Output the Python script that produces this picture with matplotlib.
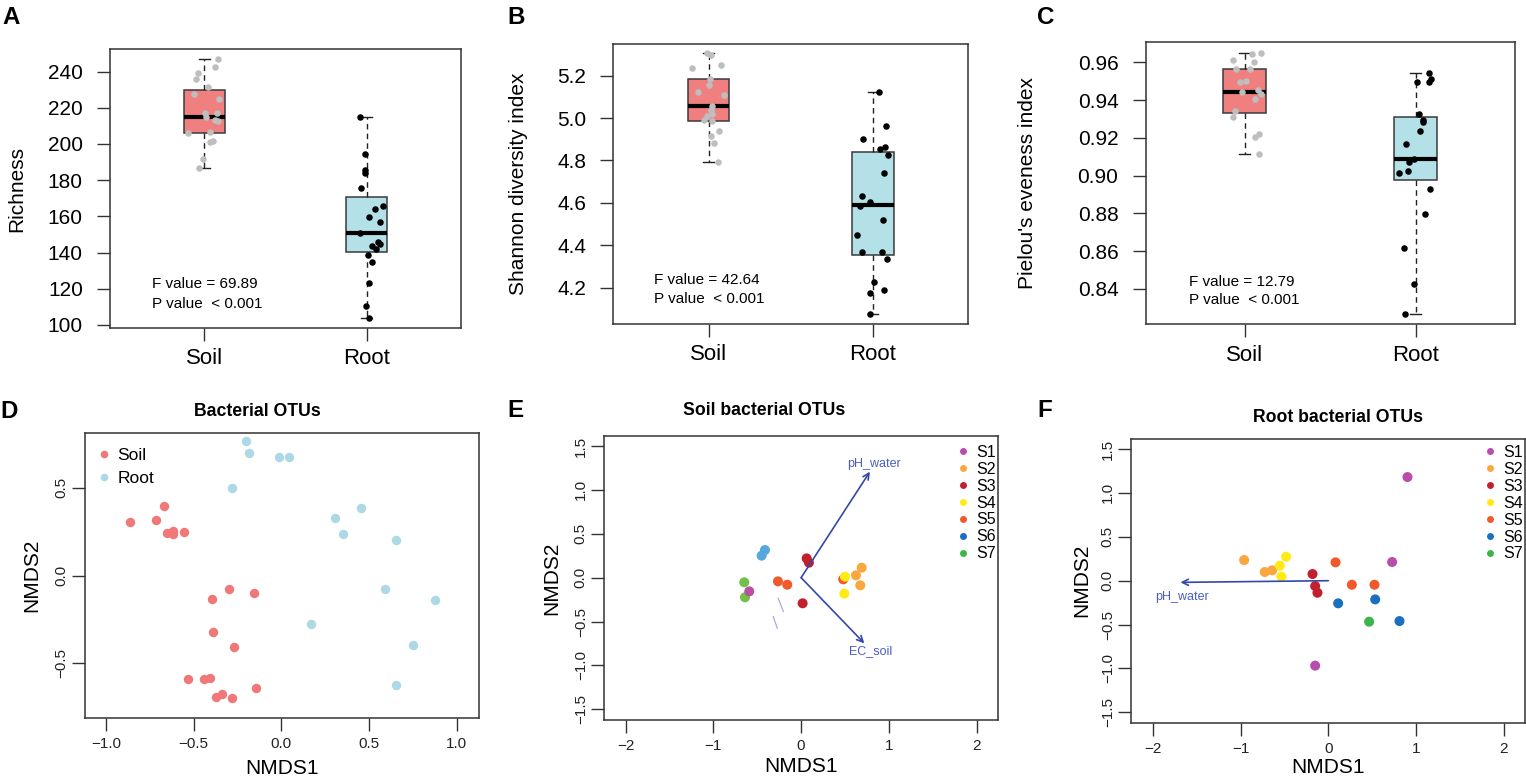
import matplotlib
matplotlib.use('Agg')
import matplotlib.pyplot as plt
from matplotlib.lines import Line2D
from matplotlib.ticker import FormatStrFormatter
import numpy as np

plt.rcParams['font.family'] = ['Liberation Sans', 'DejaVu Sans']

groups = ['Soil', 'Root']

# ---------------- Panel A : Richness ----------------
rich_soil = [246.8, 242.8, 239.1, 236.0, 231.7, 227.7, 224.9, 217.0, 217.0, 215.1,
             213.3, 212.7, 205.9, 206.7, 201.3, 201.7, 191.7, 187.0]
rich_soil_jit = [0.086, 0.064, -0.041, -0.053, 0.023, -0.066, 0.092, 0.002, 0.080, 0.012,
                 0.064, 0.084, -0.099, 0.037, 0.033, 0.053, -0.006, -0.035]
rich_root = [214.8, 194.7, 185.7, 183.8, 175.9, 165.8, 163.8, 159.9, 156.9, 150.7,
             145.9, 144.8, 143.7, 142.2, 138.7, 134.8, 122.9, 110.7, 103.9]
rich_root_jit = [-0.039, -0.012, -0.008, -0.010, -0.035, 0.097, 0.049, 0.014, 0.084, -0.039,
                 0.070, 0.084, 0.035, 0.060, 0.008, 0.035, 0.014, -0.004, 0.012]
# whislo, q1, median, q3, whishi
rich_soil_box = [187.0, 206.3, 214.8, 229.9, 246.8]
rich_root_box = [103.9, 140.2, 151.0, 170.8, 214.8]
rich_text = ['F value = 69.89', 'P value  < 0.001']

# ---------------- Panel B : Shannon ----------------
shan_soil = [5.305, 5.297, 5.238, 5.252, 5.184, 5.156, 5.125, 5.109, 5.057, 5.038,
             5.018, 5.011, 4.991, 4.986, 4.939, 4.917, 4.884, 4.791]
shan_soil_jit = [-0.008, 0.014, -0.101, 0.075, 0.010, 0.000, -0.065, 0.091, 0.020, 0.014,
                 0.022, -0.010, -0.028, 0.018, 0.063, 0.014, 0.034, 0.057]
shan_root = [5.121, 4.961, 4.901, 4.854, 4.865, 4.827, 4.739, 4.632, 4.587, 4.603,
             4.519, 4.448, 4.370, 4.370, 4.337, 4.227, 4.175, 4.191, 4.077]
shan_root_jit = [0.034, 0.081, -0.063, 0.041, 0.071, 0.089, 0.065, -0.065, -0.081, -0.016,
                 0.061, -0.095, -0.065, 0.055, 0.087, 0.006, -0.020, 0.067, -0.016]
shan_soil_box = [4.791, 4.988, 5.057, 5.183, 5.305]
shan_root_box = [4.077, 4.353, 4.588, 4.840, 5.121]
shan_text = ['F value = 42.64', 'P value  < 0.001']

# ---------------- Panel C : Pielou ----------------
piel_soil = [0.9651, 0.9644, 0.9611, 0.9600, 0.9565, 0.9563, 0.9499, 0.9494, 0.9441,
             0.9454, 0.9434, 0.9406, 0.9342, 0.9309, 0.9222, 0.9205, 0.9116]
piel_soil_jit = [0.097, 0.043, -0.072, 0.055, -0.049, 0.029, 0.006, -0.029, -0.018,
                 0.074, 0.094, 0.062, -0.058, -0.070, 0.082, 0.062, 0.082]
piel_root = [0.9542, 0.9498, 0.9514, 0.9498, 0.9328, 0.9295, 0.9282, 0.9238, 0.9168,
             0.9088, 0.9074, 0.9016, 0.9026, 0.8931, 0.8795, 0.8617, 0.8427, 0.8266]
piel_root_jit = [0.078, 0.006, 0.086, 0.076, 0.019, 0.039, 0.043, 0.027, -0.055,
                 -0.010, -0.041, -0.099, -0.047, 0.084, 0.055, -0.070, -0.012, -0.064]
piel_soil_box = [0.9116, 0.9332, 0.9441, 0.9566, 0.9651]
piel_root_box = [0.8266, 0.8975, 0.9088, 0.9312, 0.9542]
piel_text = ['F value = 12.79', 'P value  < 0.001']

# ---------------- Panel D : NMDS all ----------------
d_soil_x = [-0.863, -0.717, -0.667, -0.650, -0.620, -0.616, -0.557, -0.297, -0.158, -0.394,
            -0.390, -0.272, -0.534, -0.441, -0.407, -0.144, -0.375, -0.340, -0.279]
d_soil_y = [0.303, 0.314, 0.394, 0.244, 0.236, 0.253, 0.250, -0.079, -0.100, -0.136,
            -0.320, -0.405, -0.591, -0.587, -0.585, -0.640, -0.692, -0.675, -0.699]
d_root_x = [-0.202, -0.184, -0.015, 0.044, -0.281, 0.456, 0.306, 0.350, 0.654, 0.591,
            0.876, 0.171, 0.753, 0.652]
d_root_y = [0.764, 0.697, 0.676, 0.675, 0.500, 0.386, 0.327, 0.234, 0.200, -0.077,
            -0.138, -0.276, -0.396, -0.621]

# ---------------- Panel E : Soil NMDS ----------------
sites = ['S1', 'S2', 'S3', 'S4', 'S5', 'S6', 'S7']
site_colors = ['#B84DAE', '#F9A73E', '#C1212E', '#FFEA16', '#F0592A', '#1A6FBF', '#3BB54A']
e_site = ['S6', 'S6', 'S3', 'S3', 'S3', 'S5', 'S5', 'S5', 'S7', 'S7', 'S1',
          'S4', 'S4', 'S2', 'S2', 'S2']
e_x = [-0.412, -0.450, 0.063, 0.089, 0.017, -0.264, -0.158, 0.480, -0.648, -0.640, -0.591,
       0.500, 0.492, 0.690, 0.625, 0.674]
e_y = [0.315, 0.251, 0.220, 0.171, -0.292, -0.042, -0.080, -0.019, -0.053, -0.224, -0.156,
       0.011, -0.182, 0.114, 0.027, -0.087]
e_point_colors = {'S6': '#58A6DE', 'S7': '#72C04A', 'S1': '#B650A2'}
e_vectors = ['pH_water', 'EC_soil']
e_vec_x = [0.784, 0.720]
e_vec_y = [1.208, -0.748]
e_lab_x = [0.830, 0.792]
e_lab_y = [1.295, -0.832]
# faint short (non-significant) vectors
e_minor_x0 = [-0.260, -0.317]
e_minor_y0 = [-0.235, -0.444]
e_minor_x1 = [-0.203, -0.272]
e_minor_y1 = [-0.387, -0.577]

# ---------------- Panel F : Root NMDS ----------------
f_site = ['S1', 'S1', 'S1', 'S2', 'S2', 'S2', 'S4', 'S4', 'S4', 'S3', 'S3', 'S3',
          'S5', 'S5', 'S5', 'S6', 'S6', 'S6', 'S7']
f_x = [0.902, 0.727, -0.150, -0.959, -0.724, -0.640, -0.481, -0.553, -0.534, -0.180, -0.150,
       -0.124, 0.082, 0.268, 0.526, 0.112, 0.534, 0.811, 0.465]
f_y = [1.181, 0.213, -0.968, 0.235, 0.099, 0.118, 0.273, 0.171, 0.046, 0.076, -0.061,
       -0.137, 0.209, -0.046, -0.046, -0.258, -0.213, -0.460, -0.467]
f_vectors = ['pH_water']
f_vec_x = [-1.685]
f_vec_y = [-0.019]
f_lab_x = [-1.670]
f_lab_y = [-0.182]

# =====================================================
W, H = 1526, 784
fig = plt.figure(figsize=(W / 100, H / 100), dpi=100)


def rect(l, r, t, b):
    return [l / W, 1 - b / H, (r - l) / W, (b - t) / H]


SPINE = '#333333'


def style_spines(ax):
    for s in ax.spines.values():
        s.set_color(SPINE)
        s.set_linewidth(1.1)


def box_panel(ax, soil, soil_j, root, root_j, soil_box, root_box, ylim, yticks, fmt,
              ylabel, ylab_x, txt, txt_x, txt_y):
    stats = []
    for b in (soil_box, root_box):
        stats.append(dict(whislo=b[0], q1=b[1], med=b[2], q3=b[3], whishi=b[4], fliers=[]))
    bp = ax.bxp(stats, positions=[1, 2], widths=0.25, capwidths=0.065, patch_artist=True,
                showfliers=False,
                boxprops=dict(edgecolor='#3a3a3a', linewidth=1.1),
                whiskerprops=dict(linestyle=(0, (4, 3)), color='#222222', linewidth=1.0),
                capprops=dict(color='#222222', linewidth=1.0),
                medianprops=dict(color='black', linewidth=3.0, solid_capstyle='butt'))
    for patch, c in zip(bp['boxes'], ['#F08080', '#B4E0E8']):
        patch.set_facecolor(c)
    ax.scatter(1 + np.array(soil_j), soil, s=22, color='#BEBEBE', linewidths=0, zorder=4)
    ax.scatter(2 + np.array(root_j), root, s=22, color='black', linewidths=0, zorder=4)
    ax.set_xlim(0.42, 2.58)
    ax.set_ylim(*ylim)
    ax.set_xticks([1, 2])
    ax.set_xticklabels(groups)
    ax.set_yticks(yticks)
    ax.yaxis.set_major_formatter(FormatStrFormatter(fmt))
    ax.tick_params(axis='both', length=9.6, width=1.0, color=SPINE)
    ax.tick_params(axis='y', labelsize=15, pad=10)
    ax.tick_params(axis='x', labelsize=16, pad=5)
    ax.set_ylabel(ylabel, fontsize=15, va='center')
    ax.yaxis.set_label_coords(ylab_x, 0.5)
    for i, t in enumerate(txt):
        ax.text(txt_x, txt_y[i], t, transform=ax.transAxes, fontsize=11, ha='left',
                va='center')
    style_spines(ax)


axA = fig.add_axes(rect(110, 461, 49, 328))
box_panel(axA, rich_soil, rich_soil_jit, rich_root, rich_root_jit, rich_soil_box,
          rich_root_box, (98.3, 252.5), np.arange(100, 241, 20), '%d', 'Richness', -0.265,
          rich_text, 0.119, [0.157, 0.087])

axB = fig.add_axes(rect(613.3, 968.3, 43.7, 323.7))
box_panel(axB, shan_soil, shan_soil_jit, shan_root, shan_root_jit, shan_soil_box,
          shan_root_box, (4.030, 5.351), [4.2, 4.4, 4.6, 4.8, 5.0, 5.2], '%.1f',
          'Shannon diversity index', -0.268, shan_text, 0.115, [0.156, 0.087])

axC = fig.add_axes(rect(1145.7, 1515, 42.3, 324.3))
box_panel(axC, piel_soil, piel_soil_jit, piel_root, piel_root_jit, piel_soil_box,
          piel_root_box, (0.8213, 0.9706), [0.84, 0.86, 0.88, 0.90, 0.92, 0.94, 0.96], '%.2f',
          "Pielou's eveness index", -0.319, piel_text, 0.116, [0.149, 0.086])


def nmds_style(ax, xlim, ylim, xticks, yticks, ylab_x, xlab_y):
    ax.set_xlim(*xlim)
    ax.set_ylim(*ylim)
    ax.set_xticks(xticks)
    ax.set_yticks(yticks)
    ax.tick_params(axis='both', length=9.4, width=1.0, color=SPINE, labelsize=11,
                   labelcolor='#222222')
    ax.tick_params(axis='x', pad=4.5)
    ax.tick_params(axis='y', pad=2.5, labelrotation=90)
    for t in ax.get_yticklabels():
        t.set_va('center')
    ax.set_xlabel('NMDS1', fontsize=15, va='center')
    ax.set_ylabel('NMDS2', fontsize=15, va='center')
    ax.xaxis.set_label_coords(0.5, xlab_y)
    ax.yaxis.set_label_coords(ylab_x, 0.5)
    style_spines(ax)


# Panel D
axD = fig.add_axes(rect(85, 479, 433.3, 717.7))
axD.scatter(d_soil_x, d_soil_y, s=46, color='#F07878', linewidths=0, zorder=3)
axD.scatter(d_root_x, d_root_y, s=46, color='#ADD8E6', linewidths=0, zorder=3)
nmds_style(axD, (-1.120, 1.127), (-0.809, 0.809), [-1.0, -0.5, 0.0, 0.5, 1.0],
           [-0.5, 0.0, 0.5], -0.135, -0.180)
hD = [Line2D([], [], marker='o', linestyle='none', markersize=5.5, color=c,
             markeredgewidth=0) for c in ['#F07878', '#ADD8E6']]
axD.legend(hD, groups, loc='upper left', bbox_to_anchor=(0.030, 0.949), frameon=False,
           fontsize=12.5, handlelength=0.8, handletextpad=0.4, labelspacing=0.45,
           borderpad=0, borderaxespad=0)


def env_panel(ax, site_list, xs, ys, pt_colors, vnames, vx, vy, lx, ly):
    cmap = dict(zip(sites, site_colors))
    cols = [pt_colors.get(s, cmap[s]) for s in site_list]
    ax.scatter(xs, ys, s=52, c=cols, linewidths=0, zorder=3)
    for name, x1, y1, tx, ty in zip(vnames, vx, vy, lx, ly):
        ax.annotate('', xy=(x1, y1), xytext=(0, 0),
                    arrowprops=dict(arrowstyle='->', color='#3448A8', lw=1.2,
                                    shrinkA=0, shrinkB=0, mutation_scale=11), zorder=4)
        ax.text(tx, ty, name, color='#4A5EC4', fontsize=9, ha='center', va='center')


def site_legend(ax, anchor):
    h = [Line2D([], [], marker='o', linestyle='none', markersize=5, color=c,
                markeredgewidth=0) for c in site_colors]
    ax.legend(h, sites, loc='upper left', bbox_to_anchor=anchor, frameon=False,
              fontsize=11.5, handlelength=0.8, handletextpad=0.4, labelspacing=0.12,
              borderpad=0, borderaxespad=0)


# Panel E
axE = fig.add_axes(rect(604.3, 998.3, 435.7, 720))
env_panel(axE, e_site, e_x, e_y, e_point_colors, e_vectors, e_vec_x, e_vec_y, e_lab_x, e_lab_y)
for x0, y0, x1, y1 in zip(e_minor_x0, e_minor_y0, e_minor_x1, e_minor_y1):
    axE.plot([x0, x1], [y0, y1], color='#A8AEDA', lw=0.9, zorder=2)
nmds_style(axE, (-2.243, 2.247), (-1.622, 1.618), [-2, -1, 0, 1, 2],
           [-1.5, -1.0, -0.5, 0.0, 0.5, 1.0, 1.5], -0.133, -0.162)
site_legend(axE, (0.895, 0.968))

# Panel F
axF = fig.add_axes(rect(1131.3, 1525, 438.7, 722.7))
env_panel(axF, f_site, f_x, f_y, {}, f_vectors, f_vec_x, f_vec_y, f_lab_x, f_lab_y)
nmds_style(axF, (-2.245, 2.241), (-1.618, 1.618), [-2, -1, 0, 1, 2],
           [-1.5, -1.0, -0.5, 0.0, 0.5, 1.0, 1.5], -0.125, -0.156)
site_legend(axF, (0.896, 0.978))

# Titles
fig.text(257 / W, 1 - 416 / H, 'Bacterial OTUs', fontsize=12.7, fontweight='bold',
         ha='center', va='baseline')
fig.text(764 / W, 1 - 415.5 / H, 'Soil bacterial OTUs', fontsize=12.7, fontweight='bold',
         ha='center', va='baseline')
fig.text(1338 / W, 1 - 422 / H, 'Root bacterial OTUs', fontsize=12.7, fontweight='bold',
         ha='center', va='baseline')

# Panel letters
letters = ['A', 'B', 'C', 'D', 'E', 'F']
letter_x = [2, 507, 1037, 0.5, 507, 1037]
letter_y = [24, 24, 24, 418, 417, 417]
for L, lx, ly in zip(letters, letter_x, letter_y):
    fig.text(lx / W, 1 - ly / H, L, fontsize=17.4, fontweight='bold', ha='left',
             va='baseline')

fig.savefig('out.png', dpi=100)
